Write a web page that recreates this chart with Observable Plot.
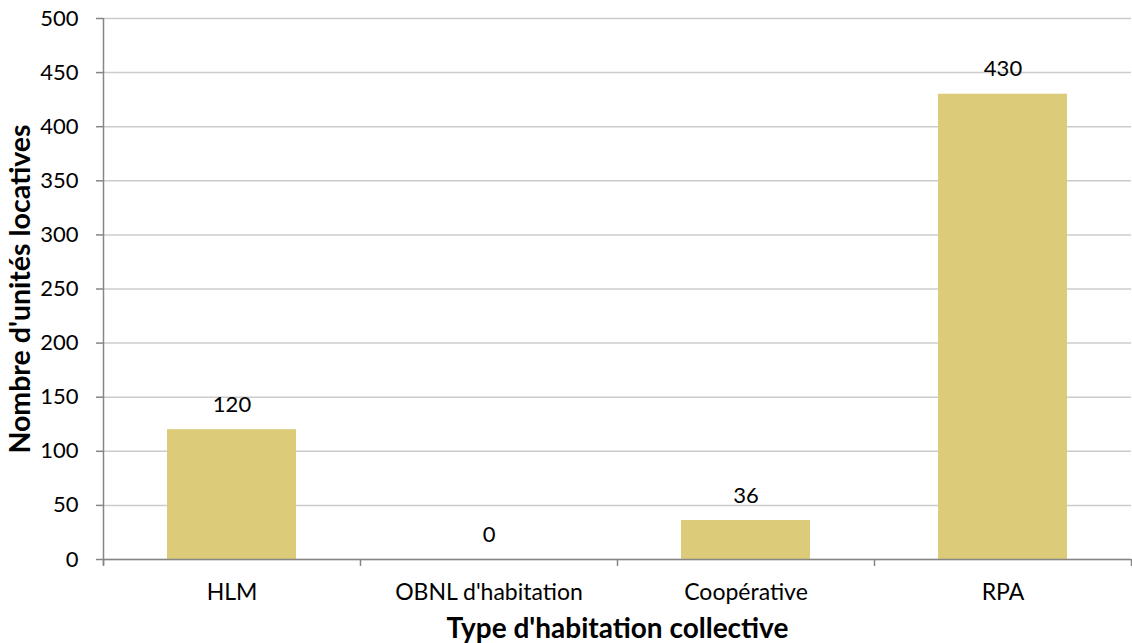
<!DOCTYPE html>
<html>
<head>
<meta charset="utf-8">
<script src="https://cdn.jsdelivr.net/npm/d3@7"></script>
<script src="https://cdn.jsdelivr.net/npm/@observablehq/plot@0.6"></script>
<style>
  html, body { margin: 0; padding: 0; background: #fff; }
  #chart { width: 1132px; height: 643px; }
</style>
</head>
<body>
<div id="chart"></div>
<script>
const categories = ["HLM", "OBNL d'habitation", "Coopérative", "RPA"];
const values = [120, 0, 36, 430];
const yTicks = [0, 50, 100, 150, 200, 250, 300, 350, 400, 450, 500];
const xTitle = "Type d'habitation collective";
const yTitle = "Nombre d'unités locatives";

const data = categories.map((c, i) => ({ category: c, value: values[i] }));

const W = 1132, H = 643;
const mL = 103, mR = 1, mT = 18, mB = 84;

const boundaryTicks = (index, scales, vals, dims) => {
  const g = d3.create("svg:g");
  const x = scales.x, y = scales.y;
  const bw = x.bandwidth();
  const y0 = y(0);
  const xs = categories.map(c => x(c)).concat([x(categories[categories.length - 1]) + bw]);
  g.append("line")
    .attr("x1", mL).attr("x2", dims.width - mR)
    .attr("y1", y0 + 0.5).attr("y2", y0 + 0.5)
    .attr("stroke", "#868686").attr("stroke-width", 1.5);
  g.append("line")
    .attr("x1", mL + 0.5).attr("x2", mL + 0.5)
    .attr("y1", y(500)).attr("y2", y0 + 6)
    .attr("stroke", "#868686").attr("stroke-width", 1.5);
  xs.forEach(px => {
    g.append("line")
      .attr("x1", px + 0.5).attr("x2", px + 0.5)
      .attr("y1", y0).attr("y2", y0 + 7)
      .attr("stroke", "#868686").attr("stroke-width", 1.5);
  });
  yTicks.forEach(t => {
    g.append("line")
      .attr("x1", mL - 7).attr("x2", mL)
      .attr("y1", y(t) + 0.5).attr("y2", y(t) + 0.5)
      .attr("stroke", "#868686").attr("stroke-width", 1.5);
  });
  return g.node();
};

const chart = Plot.plot({
  width: W,
  height: H,
  marginLeft: mL,
  marginRight: mR,
  marginTop: mT,
  marginBottom: mB,
  style: { fontFamily: "Lato, 'Open Sans', sans-serif", fontSize: "22px", color: "#000", background: "#fff" },
  x: { domain: categories, padding: 0, label: null },
  y: { domain: [0, 500], label: null },
  marks: [
    Plot.gridY(yTicks, { stroke: "#cccccc", strokeOpacity: 1, strokeWidth: 1.5 }),
    Plot.barY(data, { x: "category", y: "value", fill: "#dccb78", insetLeft: 64, insetRight: 64 }),
    Plot.axisY(yTicks, { tickSize: 0, tickPadding: 25, fontSize: 22, fill: "#000", label: null }),
    Plot.axisX({ tickSize: 0, tickPadding: 24, fontSize: 23, fill: "#000", label: null }),
    boundaryTicks,
    Plot.text(data, { x: "category", y: "value", text: d => String(d.value), dy: -25, fontSize: 22, fill: "#000" }),
    Plot.text([xTitle], { frameAnchor: "bottom", dy: 78, text: d => d, fontSize: 28, fontWeight: "bold", fill: "#000" }),
    Plot.text([yTitle], { frameAnchor: "left", textAnchor: "middle", dx: -83, rotate: -90, text: d => d, fontSize: 28.5, fontWeight: "bold", fill: "#000" })
  ]
});

document.getElementById("chart").appendChild(chart);
</script>
</body>
</html>
